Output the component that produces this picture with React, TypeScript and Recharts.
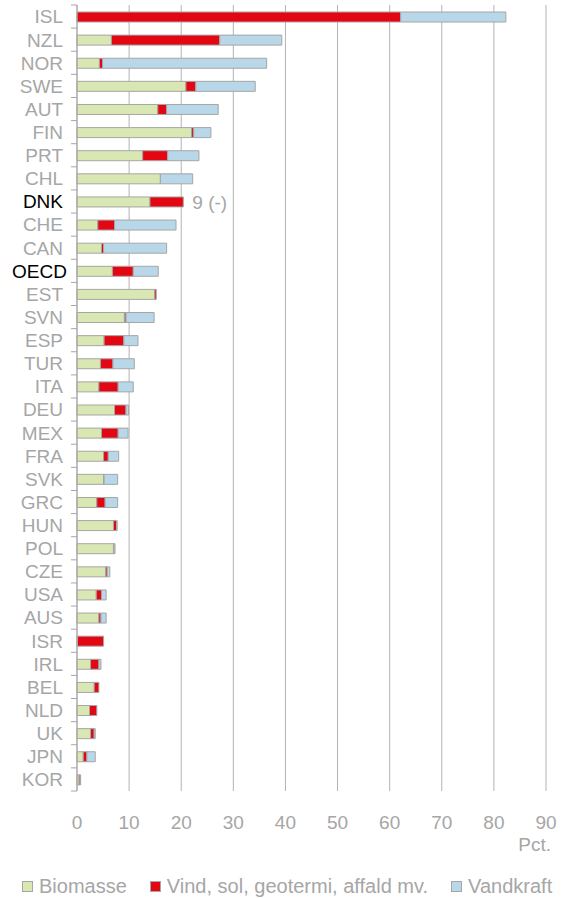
import { Bar, BarChart, CartesianGrid, LabelList, XAxis, YAxis } from "recharts";

const countries = [
  "ISL", "NZL", "NOR", "SWE", "AUT", "FIN", "PRT", "CHL", "DNK", "CHE", "CAN", "OECD",
  "EST", "SVN", "ESP", "TUR", "ITA", "DEU", "MEX", "FRA", "SVK", "GRC", "HUN", "POL",
  "CZE", "USA", "AUS", "ISR", "IRL", "BEL", "NLD", "UK", "JPN", "KOR",
];

const biomasse = [
  0, 6.6, 4.3, 20.9, 15.5, 22.0, 12.6, 16.0, 14.0, 4.0, 4.7, 6.8,
  14.9, 9.1, 5.2, 4.5, 4.2, 7.2, 4.7, 5.1, 5.1, 3.8, 7.0, 7.0,
  5.5, 3.7, 4.2, 0.1, 2.6, 3.3, 2.4, 2.6, 1.2, 0.4,
];

const vind = [
  62.1, 20.8, 0.6, 1.9, 1.7, 0.4, 4.8, 0, 6.4, 3.2, 0.4, 4.0,
  0.3, 0.3, 3.8, 2.4, 3.7, 2.2, 3.2, 0.9, 0.1, 1.6, 0.6, 0.1,
  0.3, 1.0, 0.4, 5.0, 1.6, 0.9, 1.4, 0.7, 0.7, 0.2,
];

const vandkraft = [
  20.2, 11.9, 31.5, 11.4, 9.9, 3.3, 6.0, 6.2, 0, 11.8, 12.1, 4.8,
  0, 5.4, 2.7, 4.1, 2.9, 0.5, 1.9, 2.0, 2.6, 2.4, 0.1, 0.2,
  0.5, 0.9, 1.0, 0, 0.4, 0, 0, 0.2, 1.6, 0.1,
];

// rank note shown after the Danish bar
const notes = countries.map((c) => (c === "DNK" ? "9 (-)" : ""));

const highlighted = ["DNK", "OECD"];

const xTicks = [0, 10, 20, 30, 40, 50, 60, 70, 80, 90];

const series = [
  { key: "biomasse", name: "Biomasse", color: "#d9e7b3" },
  { key: "vind", name: "Vind, sol, geotermi, affald mv.", color: "#e30613" },
  { key: "vandkraft", name: "Vandkraft", color: "#b8d7e8" },
];

const data = countries.map((country, i) => ({
  country,
  biomasse: biomasse[i],
  vind: vind[i],
  vandkraft: vandkraft[i],
  note: notes[i],
}));

const GRAY = "#a6a6a6";
const FONT = "'Liberation Sans', Arial, sans-serif";

function CountryTick(props: any) {
  const { x, y, payload, index } = props;
  const half = payload.offset ?? 11.55;
  const axisX = x + 14;
  const dark = highlighted.includes(payload.value);
  return (
    <g>
      <line x1={axisX - 6} x2={axisX} y1={y - half} y2={y - half} stroke={GRAY} />
      {index === countries.length - 1 && (
        <line x1={axisX - 6} x2={axisX} y1={y + half} y2={y + half} stroke={GRAY} />
      )}
      <text
        x={payload.value === "OECD" ? x + 4 : x}
        y={y}
        dy="0.36em"
        textAnchor="end"
        fill={dark ? "#000000" : GRAY}
        fontSize={19}
        fontFamily={FONT}
      >
        {payload.value}
      </text>
    </g>
  );
}

function NoteLabel(props: any) {
  const { x, y, width, height, value } = props;
  if (!value) return null;
  return (
    <text
      x={x + width + 9}
      y={y + height / 2}
      dy="0.36em"
      fill={GRAY}
      fontSize={19}
      fontFamily={FONT}
    >
      {value}
    </text>
  );
}

export default function App() {
  return (
    <div style={{ position: "relative", width: 566, height: 898, fontFamily: FONT }}>
      <style>{"body{margin:0}"}</style>
      <BarChart
        width={566}
        height={898}
        data={data}
        layout="vertical"
        margin={{ top: 5, right: 20, bottom: 0, left: 0 }}
        barSize={10}
      >
        <CartesianGrid horizontal={false} stroke="#b3b3b3" />
        <XAxis
          type="number"
          domain={[0, 90]}
          ticks={xTicks}
          axisLine={false}
          tickLine={false}
          tickMargin={19}
          height={107}
          tick={{ fill: GRAY, fontSize: 19, fontFamily: FONT }}
        />
        <YAxis
          type="category"
          dataKey="country"
          width={77}
          axisLine={{ stroke: GRAY }}
          tickLine={false}
          tickSize={0}
          tickMargin={14}
          interval={0}
          tick={<CountryTick />}
        />
        {series.map((s) => (
          <Bar
            key={s.key}
            dataKey={s.key}
            name={s.name}
            stackId="a"
            fill={s.color}
            stroke={GRAY}
            strokeWidth={1}
            isAnimationActive={false}
          >
            {s.key === "vind" && <LabelList dataKey="note" content={<NoteLabel />} />}
          </Bar>
        ))}
      </BarChart>
      <div
        style={{
          position: "absolute",
          right: 15,
          top: 834,
          fontSize: 19,
          color: GRAY,
        }}
      >
        Pct.
      </div>
      <div
        style={{
          position: "absolute",
          left: 22,
          top: 875,
          display: "flex",
          gap: 23,
          fontSize: 20,
          color: GRAY,
          whiteSpace: "nowrap",
        }}
      >
        {series.map((s) => (
          <div key={s.key} style={{ display: "flex", alignItems: "center", gap: 6 }}>
            <span
              style={{
                width: 9,
                height: 9,
                background: s.color,
                border: `1px solid ${GRAY}`,
                display: "inline-block",
              }}
            />
            <span>{s.name}</span>
          </div>
        ))}
      </div>
    </div>
  );
}
